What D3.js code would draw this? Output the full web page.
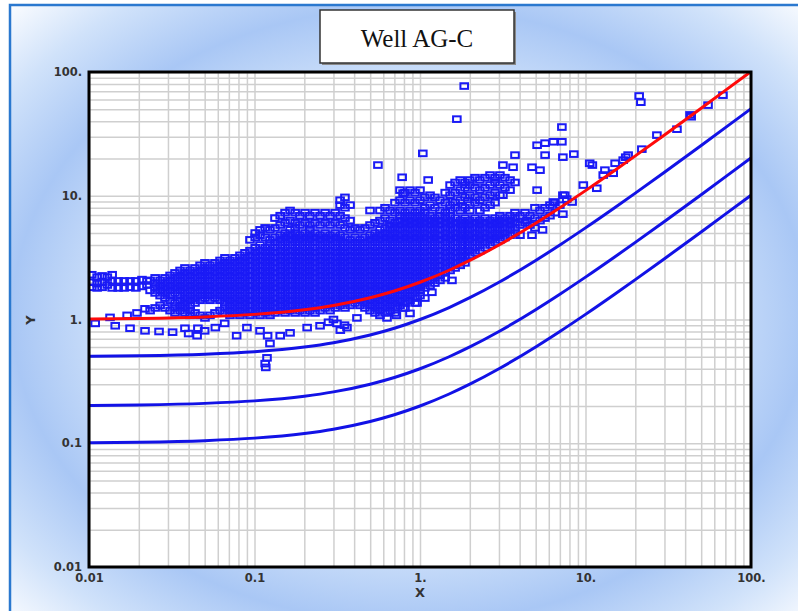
<!DOCTYPE html>
<html><head><meta charset="utf-8">
<script src="https://cdn.jsdelivr.net/npm/d3@7"></script>
<style>html,body{margin:0;padding:0;background:#fff;} svg{display:block}</style>
</head><body>
<svg id="c" width="798" height="611"></svg>
<script>
const chartTitle = "Well AG-C";
const xAxisTitle = "X";
const yAxisTitle = "Y";
const xTickVals = [0.01, 0.1, 1, 10, 100];
const xTickLabels = ["0.01", "0.1", "1.", "10.", "100."];
const yTickVals = [0.01, 0.1, 1, 10, 100];
const yTickLabels = ["0.01", "0.1", "1.", "10.", "100."];

// type curves
const curveX = [0.01,0.02,0.05,0.1,0.2,0.3,0.5,0.7,1,1.5,2,3,5,7,10,15,20,30,50,70,100];
const redY   = [1.01,1.02,1.05,1.1,1.2,1.3,1.5,1.7,2,2.5,3,4,6,8,11,16,21,31,51,71,101];
const blueY1 = [0.505,0.51,0.525,0.55,0.6,0.65,0.75,0.85,1,1.25,1.5,2,3,4,5.5,8,10.5,15.5,25.5,35.5,50.5];
const blueY2 = [0.202,0.204,0.21,0.22,0.24,0.26,0.3,0.34,0.4,0.5,0.6,0.8,1.2,1.6,2.2,3.2,4.2,6.2,10.2,14.2,20.2];
const blueY3 = [0.101,0.102,0.105,0.11,0.12,0.13,0.15,0.17,0.2,0.25,0.3,0.4,0.6,0.8,1.1,1.6,2.1,3.1,5.1,7.1,10.1];

// dense measurement cloud, column by column
const cloudX = [0.0104,0.0112,0.0120,0.0129,0.0138,0.0150,0.0163,0.0177,0.0192,0.0209,0.0224,
0.0234,0.0251,0.0269,0.0288,0.0309,0.0331,0.0355,0.0380,0.0408,0.0437,0.0469,0.0502,0.0538,0.0577,0.0619,0.0663,0.0711,0.0762,0.0817,0.0876,0.0939,
0.101,0.108,0.116,0.124,0.133,0.143,0.153,0.164,0.176,0.188,0.202,0.216,0.232,0.249,0.267,0.286,0.307,0.329,0.352,0.378,0.405,0.434,0.465,0.499,0.535,0.573,0.615,0.659,0.706,0.757,0.812,0.870,0.933,
1.0,1.07,1.15,1.23,1.32,1.42,1.52,1.63,1.75,1.87,2.0,2.15,2.3,2.47,2.65,2.84,3.04,3.26,3.5,3.75,4.02,4.31,4.62,4.95,5.31,5.69,6.1,6.54,7.0];
const cloudY = [
[2.3,2.0,1.82],[2.2,1.95,1.8],[2.25,2.0,1.82],[2.2,1.9],[2.3,2.05,1.8],[2.05,1.8],[2.05,1.8],[2.05,1.82],[2.05,1.8],[2.1,1.85],[2.05,1.9],
[2.07,1.72,1.18],
[2.17,1.97,1.80,1.64,1.24],
[2.07,1.88,1.72,1.56,1.30],
[2.17,1.97,1.80,1.64,1.49,1.24],
[2.27,2.07,1.88,1.72,1.56,1.43,1.18],
[2.38,2.17,1.97,1.80,1.64,1.36,1.24,1.13],
[2.49,2.27,2.07,1.88,1.72,1.56,1.43,1.30,1.18],
[2.61,2.38,2.17,1.97,1.80,1.64,1.49,1.36,1.24,1.13],
[2.49,2.27,2.07,1.88,1.72,1.56,1.43,1.30,1.18,1.08],
[2.61,2.38,2.17,1.97,1.80,1.64,1.49,1.36,1.13],
[2.74,2.49,2.27,2.07,1.88,1.72,1.56,1.43,1.08],
[2.87,2.61,2.38,2.17,1.97,1.80,1.64,1.49,1.03],
[2.74,2.49,2.27,2.07,1.88,1.72,1.56,1.43,1.08],
[2.87,2.61,2.38,2.17,1.97,1.80,1.64,1.49,1.13],
[3.0,2.74,2.49,2.27,2.07,1.88,1.72,1.56,1.43,1.18],
[3.15,2.87,2.61,2.38,2.17,1.97,1.80,1.64,1.49,1.36,1.24,1.13],
[3.0,2.74,2.49,2.27,2.07,1.88,1.72,1.56,1.43,1.30,1.18,1.08],
[3.15,2.87,2.61,2.38,2.17,1.97,1.80,1.64,1.49,1.36,1.24,1.13],
[3.3,3.0,2.74,2.49,2.27,2.07,1.88,1.72,1.56,1.43,1.30,1.18,1.08],
[3.46,3.15,2.87,2.61,2.38,2.17,1.97,1.80,1.64,1.49,1.36,1.24,1.13],
[4.4,3.6,3.3,3.0,2.74,2.49,2.27,2.07,1.88,1.72,1.56,1.43,1.30,1.18,1.08],
[5.0,4.6,3.8,3.46,3.15,2.87,2.61,2.38,2.17,1.97,1.80,1.64,1.49,1.36,1.24,1.13],
[5.3,4.8,4.0,3.6,3.3,3.0,2.74,2.49,2.27,2.07,1.88,1.72,1.56,1.43,1.30,1.18,1.08],
[5.5,4.6,3.8,3.46,3.15,2.87,2.61,2.38,2.17,1.97,1.80,1.64,1.49,1.36,1.24,1.13],
[5.3,4.4,4.0,3.6,3.3,3.0,2.74,2.49,2.27,2.07,1.88,1.72,1.56,1.43,1.30,1.18,1.08],
[6.6,5.5,4.6,4.2,3.8,3.46,3.15,2.87,2.61,2.38,2.17,1.97,1.80,1.64,1.49,1.36,1.24,1.13],
[6.9,5.8,4.8,4.4,4.0,3.6,3.3,3.0,2.74,2.49,2.27,2.07,1.88,1.72,1.56,1.43,1.30,1.18],
[7.3,6.05,5.0,4.6,4.2,3.8,3.46,3.15,2.87,2.61,2.38,2.17,1.97,1.80,1.64,1.49,1.36,1.24,1.13],
[7.6,6.3,5.3,4.8,4.4,4.0,3.6,3.3,3.0,2.74,2.49,2.27,2.07,1.88,1.72,1.56,1.43,1.30,1.18],
[7.3,6.05,5.5,5.0,4.6,4.2,3.8,3.46,3.15,2.87,2.61,2.38,2.17,1.97,1.80,1.64,1.49,1.36,1.24,1.13],
[6.9,5.8,4.8,4.4,4.0,3.6,3.3,3.0,2.74,2.49,2.27,2.07,1.88,1.72,1.56,1.43,1.30,1.18],
[7.3,6.05,5.0,4.6,4.2,3.8,3.46,3.15,2.87,2.61,2.38,2.17,1.97,1.80,1.64,1.49,1.36,1.24,1.13],
[6.9,5.8,5.3,4.8,4.4,4.0,3.6,3.3,3.0,2.74,2.49,2.27,2.07,1.88,1.72,1.56,1.43,1.30,1.18],
[7.3,6.05,5.0,4.6,4.2,3.8,3.46,3.15,2.87,2.61,2.38,2.17,1.97,1.80,1.64,1.49,1.36,1.24,1.13],
[6.9,5.8,4.8,4.4,4.0,3.6,3.3,3.0,2.74,2.49,2.27,2.07,1.88,1.72,1.56,1.43,1.30,1.18],
[7.3,6.05,5.0,4.6,4.2,3.8,3.46,3.15,2.87,2.61,2.38,2.17,1.97,1.80,1.64,1.49,1.36,1.24],
[6.9,5.8,4.8,4.4,4.0,3.6,3.3,3.0,2.74,2.49,2.27,2.07,1.88,1.72,1.56,1.43,1.30,1.18],
[7.3,6.05,5.0,4.6,4.2,3.8,3.46,3.15,2.87,2.61,2.38,2.17,1.97,1.80,1.64,1.49,1.36,1.24],
[9.2,8.4,6.9,5.8,4.8,4.4,4.0,3.6,3.3,3.0,2.74,2.49,2.27,2.07,1.88,1.72,1.56,1.43,1.30],
[9.7,8.0,6.6,5.5,4.6,4.2,3.8,3.46,3.15,2.87,2.61,2.38,2.17,1.97,1.80,1.64,1.49,1.36,1.24],
[8.4,6.3,5.3,4.4,4.0,3.6,3.3,3.0,2.74,2.49,2.27,2.07,1.88,1.72,1.56,1.43,1.30],
[5.5,4.6,4.2,3.8,3.46,3.15,2.87,2.61,2.38,2.17,1.97,1.80,1.64,1.49,1.36],
[5.3,4.4,4.0,3.6,3.3,3.0,2.74,2.49,2.27,2.07,1.88,1.72,1.56,1.43,1.30],
[5.5,4.6,4.2,3.8,3.46,3.15,2.87,2.61,2.38,2.17,1.97,1.80,1.64,1.49,1.36,1.24],
[7.6,5.8,4.8,4.4,4.0,3.6,3.3,3.0,2.74,2.49,2.27,2.07,1.88,1.72,1.56,1.43,1.30,1.18],
[6.05,5.0,4.6,4.2,3.8,3.46,3.15,2.87,2.61,2.38,2.17,1.97,1.80,1.64,1.49,1.36,1.24,1.13],
[7.6,6.3,5.3,4.8,4.4,4.0,3.6,3.3,3.0,2.74,2.49,2.27,2.07,1.88,1.72,1.56,1.43,1.30,1.18,1.08],
[8.0,6.6,5.5,5.0,4.6,4.2,3.8,3.46,3.15,2.87,2.61,2.38,2.17,1.97,1.80,1.64,1.49,1.36,1.24,1.13],
[7.6,6.3,5.8,5.3,4.8,4.4,4.0,3.6,3.3,3.0,2.74,2.49,2.27,2.07,1.88,1.72,1.56,1.43,1.30,1.18],
[8.8,7.3,6.05,5.5,5.0,4.6,4.2,3.8,3.46,3.15,2.87,2.61,2.38,2.17,1.97,1.80,1.64,1.49,1.36,1.24,1.13],
[11.1,9.2,7.6,6.9,6.3,5.8,5.3,4.8,4.4,4.0,3.6,3.3,3.0,2.74,2.49,2.27,2.07,1.88,1.72,1.56,1.43,1.30],
[10.6,8.8,7.3,6.6,6.05,5.5,5.0,4.6,4.2,3.8,3.46,3.15,2.87,2.61,2.38,2.17,1.97,1.80,1.64,1.49,1.36,1.24],
[11.1,9.2,7.6,6.9,6.3,5.8,5.3,4.8,4.4,4.0,3.6,3.3,3.0,2.74,2.49,2.27,2.07,1.88,1.72,1.56,1.43],
[10.6,8.8,7.3,6.6,6.05,5.5,5.0,4.6,4.2,3.8,3.46,3.15,2.87,2.61,2.38,2.17,1.97,1.80,1.64,1.49,1.36],
[11.1,9.2,7.6,6.9,6.3,5.8,5.3,4.8,4.4,4.0,3.6,3.3,3.0,2.74,2.49,2.27,2.07,1.88,1.72,1.56],
[9.7,8.0,7.3,6.6,6.05,5.5,5.0,4.6,4.2,3.8,3.46,3.15,2.87,2.61,2.38,2.17,1.97,1.80,1.49],
[10.1,8.4,6.9,6.3,5.8,5.3,4.8,4.4,4.0,3.6,3.3,3.0,2.74,2.49,2.27,2.07,1.88],
[9.7,8.0,6.6,6.05,5.5,5.0,4.6,4.2,3.8,3.46,3.15,2.87,2.61,2.38,2.17,1.97],
[9.2,7.6,6.9,6.3,5.8,5.3,4.8,4.4,4.0,3.6,3.3,3.0,2.74,2.49,2.27,2.07],
[10.6,8.8,7.3,6.6,6.05,5.5,5.0,4.6,4.2,3.8,3.46,3.15,2.87,2.61,2.38,2.17],
[12.2,10.1,8.4,7.6,6.9,6.3,5.8,5.3,4.8,4.4,4.0,3.6,3.3,3.0,2.74,2.49],
[12.8,10.6,8.8,8.0,6.6,6.05,5.5,5.0,4.6,4.2,3.8,3.46,3.15,2.87,2.61],
[13.4,11.1,9.2,7.6,6.3,5.8,5.3,4.8,4.4,4.0,3.6,3.3,3.0,2.74],
[12.8,11.6,9.7,8.0,6.6,6.05,5.5,5.0,4.6,4.2,3.8,3.46,3.15,2.87],
[13.4,12.2,10.1,8.4,7.6,6.3,5.8,5.3,4.8,4.4,4.0,3.6,3.3],
[14.0,11.6,9.7,8.8,6.6,6.05,5.5,5.0,4.6,4.2,3.8,3.46],
[13.4,11.1,9.2,7.6,6.3,5.8,5.3,4.8,4.4,4.0,3.6],
[14.0,11.6,9.7,8.0,6.6,6.05,5.5,5.0,4.6,4.2,3.8],
[14.7,12.2,10.1,8.4,6.3,5.8,5.3,4.8,4.4,4.0],
[14.0,12.8,10.6,8.8,6.6,6.05,5.5,5.0,4.6,4.2],
[14.7,12.2,10.1,6.9,6.3,5.8,5.3,4.8,4.4],
[14.0,11.6,6.6,6.05,5.5,5.0,4.6],
[13.4,11.1,6.9,6.3,5.8,5.3,4.8],
[12.8,7.3,6.6,6.05,5.5,5.0],
[6.9,5.8,4.8],
[7.3,6.05],
[6.9,5.8],
[8.0,6.6,5.5],
[7.6,6.3],
[8.0,6.6],
[8.4,6.9],
[8.8,7.3],
[8.4]
];
// isolated points off the main cloud
const extraPts = [
[0.0109,0.93],[0.0134,1.04],[0.0144,0.89],[0.017,1.08],[0.0177,0.85],[0.0195,1.13],[0.0218,0.81],[0.0218,1.22],[0.0265,0.80],[0.032,0.79],
[0.038,0.85],[0.040,0.77],[0.045,0.74],[0.0455,0.85],[0.050,0.81],[0.058,0.86],[0.066,0.93],[0.078,0.74],[0.090,0.86],[0.108,0.81],
[0.12,0.74],[0.124,0.64],[0.119,0.49],[0.116,0.44],[0.117,0.41],[0.143,0.74],[0.164,0.78],[0.208,0.86],[0.249,0.89],[0.315,0.93],
[0.362,0.86],[0.416,1.03],[0.632,1.03],[0.72,1.08],[0.28,0.95],[0.30,1.0],[0.33,0.82],[0.35,0.9],
[1.56,2.07],[1.18,1.66],[1.0,1.82],[0.96,1.36],[0.87,1.12],[0.79,1.24],
[0.557,17.7],[0.78,14.1],[0.79,10.5],[1.04,22],[1.12,13.4],[1.67,41.6],[1.85,77],[3.75,21.3],[3.65,17.0],[3.17,17.7],
[4.75,17.0],[5.31,16.1],[5.1,11.1],[7.2,35.9],[5.1,25.6],[5.7,26.6],[6.4,27.3],[7.2,27.3],[5.7,21.3],[7.3,20.5],[7.3,10.1],[3.17,10.1],
[4.43,6.3],[4.75,4.8],[5.5,5.3],[7.3,7.1],[6.4,8.9],
[21.1,64],[21.6,57],[8.5,21.7],[10.6,18.3],[11.0,17.7],[13.1,16.1],[12.8,14.7],[14.7,15.2],[15.1,18.3],[16.9,19.4],
[18.1,21.3],[17.5,20.5],[21.9,23.8],[27,30.9],[35.7,34.5],[42.8,45],[43.5,43.5],[55,54],[67.7,65],
[9.7,12.2],[11.7,11.5],[7.5,10.1],[7.7,9.4],[8.3,8.9]
];

const m = {left: 89, top: 72, right: 751, bottom: 567};
const x = d3.scaleLog().domain([0.01, 100]).range([m.left, m.right]);
const y = d3.scaleLog().domain([0.01, 100]).range([m.bottom, m.top]);
const svg = d3.select("#c");
const defs = svg.append("defs");

const rg = defs.append("radialGradient").attr("id", "bg")
  .attr("cx", "50%").attr("cy", "50%").attr("r", "71%");
[[0, "#ffffff"], [0.35, "#f3f7fe"], [0.55, "#c9ddf9"], [0.7, "#a9c7f5"], [0.86, "#d0e2fa"], [1, "#fcfdff"]]
  .forEach(s => rg.append("stop").attr("offset", s[0]).attr("stop-color", s[1]));

defs.append("clipPath").attr("id", "plotClip").append("rect")
  .attr("x", m.left).attr("y", m.top).attr("width", m.right - m.left).attr("height", m.bottom - m.top);

// outer frame
svg.append("rect").attr("x", 10).attr("y", 5).attr("width", 800).attr("height", 620)
  .attr("fill", "url(#bg)").attr("stroke", "#2a78cf").attr("stroke-width", 2.5);

// plot background
svg.append("rect").attr("x", m.left).attr("y", m.top).attr("width", m.right - m.left).attr("height", m.bottom - m.top)
  .attr("fill", "#ffffff");

// grid
const gridX = svg.append("g").attr("transform", `translate(0,${m.bottom})`)
  .call(d3.axisBottom(x).tickValues(x.ticks()).tickSize(-(m.bottom - m.top)).tickFormat(""));
const gridY = svg.append("g").attr("transform", `translate(${m.left},0)`)
  .call(d3.axisLeft(y).tickValues(y.ticks()).tickSize(-(m.right - m.left)).tickFormat(""));
[gridX, gridY].forEach(g => {
  g.select(".domain").remove();
  g.selectAll("line").attr("stroke", "#cfcfcf").attr("stroke-width", 1.5);
});

const plot = svg.append("g").attr("clip-path", "url(#plotClip)");

// scatter
const pts = [];
cloudX.forEach((xv, i) => cloudY[i].forEach(yv => pts.push([xv, yv])));
extraPts.forEach(p => pts.push(p));
plot.append("g")
  .selectAll("rect").data(pts).join("rect")
  .attr("x", d => x(d[0]) - 3.8).attr("y", d => y(d[1]) - 2.8)
  .attr("width", 7.6).attr("height", 5.6)
  .attr("fill", "none").attr("stroke", "#1a1af6").attr("stroke-width", 2);

// curves
const line = d3.line().x(d => x(d[0])).y(d => y(d[1])).curve(d3.curveMonotoneX);
[[blueY3, "#1212e6"], [blueY2, "#1212e6"], [blueY1, "#1212e6"], [redY, "#ff0a0a"]].forEach(([ys, col]) => {
  plot.append("path").datum(curveX.map((xv, i) => [xv, ys[i]]))
    .attr("d", line).attr("fill", "none").attr("stroke", col).attr("stroke-width", 3);
});

// plot frame
svg.append("rect").attr("x", m.left).attr("y", m.top).attr("width", m.right - m.left).attr("height", m.bottom - m.top)
  .attr("fill", "none").attr("stroke", "#000").attr("stroke-width", 3);

// axes labels
const styleTicks = g => {
  g.select(".domain").remove();
  g.selectAll("line").remove();
  g.attr("font-family", null).attr("font-size", null);
  g.selectAll("text").attr("font-family", "DejaVu Sans, Verdana, sans-serif")
    .attr("font-weight", "bold").attr("font-size", "11.5px").attr("fill", "#333");
};
svg.append("g").attr("transform", `translate(0,${m.bottom})`)
  .call(d3.axisBottom(x).tickValues(xTickVals).tickFormat((d, i) => xTickLabels[i]).tickSize(0).tickPadding(7))
  .call(styleTicks);
svg.append("g").attr("transform", `translate(${m.left},0)`)
  .call(d3.axisLeft(y).tickValues(yTickVals).tickFormat((d, i) => yTickLabels[i]).tickSize(0).tickPadding(7))
  .call(styleTicks);

svg.append("text").attr("x", 420).attr("y", 597).attr("text-anchor", "middle")
  .attr("font-family", "DejaVu Sans, sans-serif").attr("font-weight", "bold").attr("font-size", "13px")
  .attr("fill", "#333").text(xAxisTitle);
svg.append("text").attr("transform", "translate(35,320) rotate(-90)").attr("text-anchor", "middle")
  .attr("font-family", "DejaVu Sans, sans-serif").attr("font-weight", "bold").attr("font-size", "13px")
  .attr("fill", "#333").text(yAxisTitle);

// title box
svg.append("rect").attr("x", 322).attr("y", 12).attr("width", 194).attr("height", 53).attr("fill", "#8a8a8a");
svg.append("rect").attr("x", 320).attr("y", 10).attr("width", 194).attr("height", 53)
  .attr("fill", "#fff").attr("stroke", "#333").attr("stroke-width", 1.5);
svg.append("text").attr("x", 417).attr("y", 47).attr("text-anchor", "middle")
  .attr("font-family", "Liberation Serif, Times New Roman, serif").attr("font-size", "25px")
  .attr("fill", "#111").text(chartTitle);
</script>
</body></html>
